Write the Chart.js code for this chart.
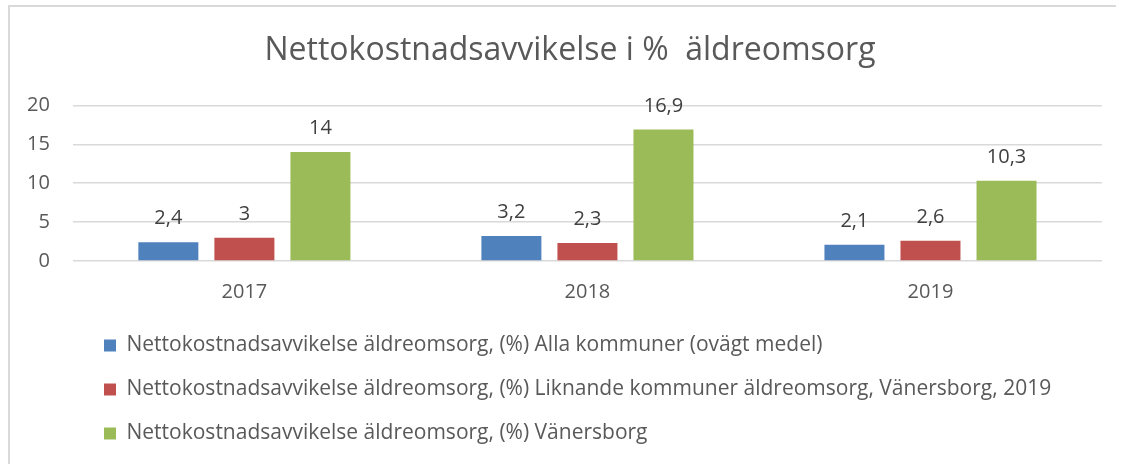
<!DOCTYPE html>
<html>
<head>
<meta charset="utf-8">
<script src="https://cdn.jsdelivr.net/npm/chart.js@4/dist/chart.umd.min.js"></script>
<style>
  html, body { margin: 0; padding: 0; background: #fff; }
  #wrap { position: relative; width: 1124px; height: 464px; }
</style>
</head>
<body>
<div id="wrap"><canvas id="graf" width="1124" height="464"></canvas></div>
<script>
// --- Datos ---
const years = ["2017", "2018", "2019"];
const allaKommuner = [2.4, 3.2, 2.1];
const liknandeKommuner = [3, 2.3, 2.6];
const vanersborg = [14, 16.9, 10.3];
const yTicks = [0, 5, 10, 15, 20];

const seriesNames = [
  "Nettokostnadsavvikelse äldreomsorg, (%) Alla kommuner (ovägt medel)",
  "Nettokostnadsavvikelse äldreomsorg, (%) Liknande kommuner äldreomsorg, Vänersborg, 2019",
  "Nettokostnadsavvikelse äldreomsorg, (%) Vänersborg"
];

const textColor = "#595959";
Chart.defaults.font.family = "'Open Sans', sans-serif";
Chart.defaults.color = textColor;

// marco gris alrededor del gráfico
const frame = {
  id: "frame",
  beforeDraw(chart) {
    const ctx = chart.ctx;
    ctx.save();
    ctx.strokeStyle = "#d9d9d9";
    ctx.lineWidth = 2;
    ctx.beginPath();
    ctx.moveTo(9, chart.height);
    ctx.lineTo(9, 6);
    ctx.lineTo(1116, 6);
    ctx.stroke();
    ctx.restore();
  }
};

// etiquetas de valor encima de cada barra
const valueLabels = {
  id: "valueLabels",
  afterDatasetsDraw(chart) {
    const ctx = chart.ctx;
    ctx.save();
    ctx.font = "20px 'Open Sans', sans-serif";
    ctx.fillStyle = "#404040";
    ctx.textAlign = "center";
    ctx.textBaseline = "alphabetic";
    chart.data.datasets.forEach((ds, i) => {
      chart.getDatasetMeta(i).data.forEach((bar, j) => {
        const txt = String(ds.data[j]).replace(".", ",");
        ctx.fillText(txt, bar.x, bar.y - 18);
      });
    });
    ctx.restore();
  }
};

// mover la leyenda y el título (posición como en el original)
const shiftBoxes = {
  id: "shiftBoxes",
  afterLayout(chart) {
    if (chart.legend) chart.legend.left += 77;
    if (chart.titleBlock) {
      chart.titleBlock.left += 17;
      chart.titleBlock.right += 17;
    }
  }
};

const ctx = document.getElementById("graf").getContext("2d");
new Chart(ctx, {
  type: "bar",
  data: {
    labels: years,
    datasets: [
      { label: seriesNames[0], data: allaKommuner, backgroundColor: "#4F81BD" },
      { label: seriesNames[1], data: liknandeKommuner, backgroundColor: "#C0504D" },
      { label: seriesNames[2], data: vanersborg, backgroundColor: "#9BBB59" }
    ]
  },
  options: {
    responsive: false,
    animation: false,
    devicePixelRatio: 1,
    layout: { padding: { left: 4, right: 22, top: 0, bottom: 10 } },
    datasets: {
      bar: { categoryPercentage: 0.665, barPercentage: 0.789, borderWidth: 0 }
    },
    plugins: {
      title: {
        display: true,
        text: "Nettokostnadsavvikelse i %  äldreomsorg",
        color: textColor,
        font: { size: 32, weight: "normal" },
        padding: { top: 32, bottom: 35 }
      },
      legend: {
        position: "bottom",
        align: "start",
        labels: {
          boxWidth: 12,
          boxHeight: 12,
          padding: 23,
          color: textColor,
          font: { size: 21 }
        }
      },
      tooltip: { enabled: false }
    },
    scales: {
      x: {
        grid: { display: false, drawTicks: false },
        border: { display: false },
        ticks: { padding: 19, font: { size: 20 }, color: textColor },
        afterFit(scale) { scale.height = 51; }
      },
      y: {
        min: 0,
        max: 20,
        afterBuildTicks(scale) { scale.ticks = yTicks.map(v => ({ value: v })); },
        grid: { color: "#d9d9d9", lineWidth: 1.5, drawTicks: false },
        border: { display: false },
        ticks: { padding: 23, font: { size: 20 }, color: textColor }
      }
    }
  },
  plugins: [frame, valueLabels, shiftBoxes]
});
</script>
</body>
</html>
